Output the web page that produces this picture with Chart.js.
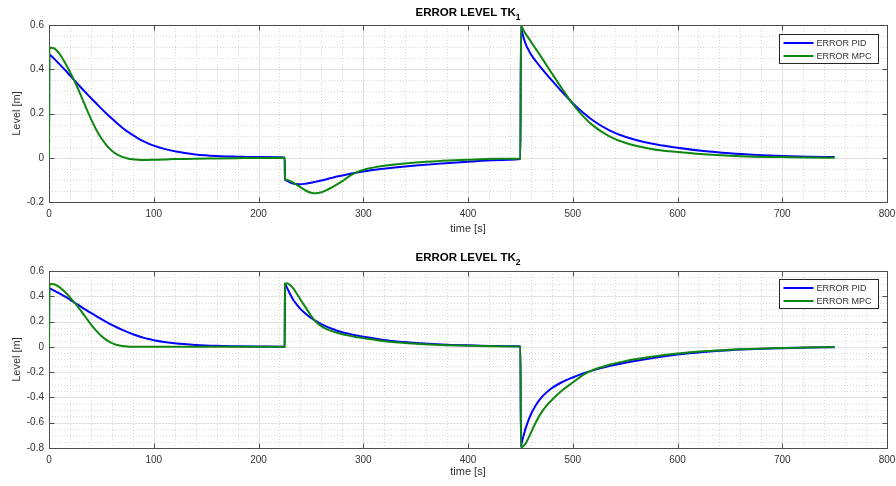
<!DOCTYPE html>
<html>
<head>
<meta charset="utf-8">
<title>ERROR LEVEL TK</title>
<script src="https://cdn.jsdelivr.net/npm/chart.js@4.4.1/dist/chart.umd.min.js"></script>
<style>
  html, body { margin: 0; padding: 0; background: #fff; }
  .box { width: 896px; height: 243px; }
  canvas { display: block; }
</style>
</head>
<body>
<div class="box"><canvas id="tk1" width="896" height="243"></canvas></div>
<div class="box"><canvas id="tk2" width="896" height="243"></canvas></div>
<script>
// ── Data ─────────────────────────────────────────────────
const time = [
  0, 0.3, 2, 5, 10, 15, 20, 25, 30, 35, 40, 45, 50, 55, 60, 65, 70, 75, 80, 85,
  90, 95, 100, 110, 120, 140, 160, 180, 200, 225,
  225.3, 227, 230, 233, 236, 240, 245, 250, 255, 260, 265, 270, 275, 280, 285, 290, 295, 300,
  315, 330, 350, 375, 400, 425, 450,
  450.6, 451, 452, 455, 457.5, 460, 465, 470, 475, 480, 490, 500, 510, 520, 535, 550, 575, 600,
  625, 650, 675, 700, 725, 750,
];

const tk1Pid = [
  0, 0.467, 0.46, 0.447, 0.423, 0.398, 0.372, 0.346, 0.32, 0.295, 0.27, 0.246, 0.222, 0.199, 0.177, 0.156, 0.136, 0.118, 0.102, 0.088,
  0.075, 0.064, 0.055, 0.04, 0.029, 0.015, 0.008, 0.005, 0.003, 0.001,
  -0.098, -0.104, -0.111, -0.116, -0.119, -0.12, -0.117, -0.113, -0.108, -0.103, -0.097, -0.091, -0.085, -0.08, -0.075, -0.07, -0.066, -0.062,
  -0.052, -0.044, -0.035, -0.026, -0.018, -0.011, -0.006,
  0.595, 0.585, 0.56, 0.515, 0.49, 0.468, 0.435, 0.405, 0.377, 0.35, 0.297, 0.247, 0.203, 0.166, 0.124, 0.095, 0.064, 0.045,
  0.03, 0.02, 0.013, 0.008, 0.005, 0.003,
];
const tk1Mpc = [
  0, 0.49, 0.497, 0.494, 0.47, 0.432, 0.388, 0.34, 0.286, 0.23, 0.176, 0.128, 0.088, 0.056, 0.032, 0.015, 0.004, -0.003, -0.007, -0.009,
  -0.01, -0.01, -0.009, -0.008, -0.006, -0.004, -0.003, -0.002, -0.001, 0,
  -0.098, -0.1, -0.105, -0.112, -0.12, -0.133, -0.148, -0.158, -0.161, -0.156, -0.146, -0.134, -0.12, -0.106, -0.089, -0.074, -0.063, -0.055,
  -0.04, -0.03, -0.021, -0.014, -0.009, -0.005, -0.003,
  0.595, 0.595, 0.585, 0.56, 0.543, 0.525, 0.49, 0.455, 0.418, 0.382, 0.311, 0.243, 0.187, 0.143, 0.097, 0.068, 0.04, 0.026,
  0.016, 0.009, 0.005, 0.003, 0.001, 0,
];

const tk2Pid = [
  0, 0.463, 0.457, 0.445, 0.423, 0.4, 0.374, 0.347, 0.32, 0.294, 0.268, 0.243, 0.219, 0.196, 0.174, 0.153, 0.134, 0.116, 0.1, 0.086,
  0.073, 0.062, 0.053, 0.039, 0.028, 0.015, 0.008, 0.005, 0.003, 0.001,
  0.5, 0.47, 0.42, 0.375, 0.34, 0.3, 0.262, 0.23, 0.203, 0.18, 0.16, 0.143, 0.128, 0.116, 0.105, 0.095, 0.087, 0.08,
  0.061, 0.045, 0.031, 0.019, 0.012, 0.007, 0.004,
  -0.795, -0.77, -0.735, -0.645, -0.585, -0.535, -0.458, -0.402, -0.36, -0.326, -0.278, -0.242, -0.21, -0.184, -0.152, -0.126, -0.09, -0.06,
  -0.04, -0.026, -0.017, -0.011, -0.006, -0.003,
];
const tk2Mpc = [
  0, 0.49, 0.497, 0.495, 0.472, 0.436, 0.392, 0.343, 0.29, 0.234, 0.178, 0.128, 0.086, 0.053, 0.03, 0.015, 0.007, 0.003, 0.001, 0,
  0, 0, 0, 0, 0, 0, 0, 0, 0, 0,
  0.5, 0.503, 0.49, 0.465, 0.428, 0.375, 0.312, 0.248, 0.197, 0.164, 0.141, 0.124, 0.111, 0.1, 0.091, 0.083, 0.075, 0.069,
  0.05, 0.036, 0.025, 0.015, 0.009, 0.005, 0.002,
  -0.795, -0.795, -0.79, -0.765, -0.725, -0.68, -0.592, -0.52, -0.465, -0.42, -0.343, -0.282, -0.222, -0.18, -0.142, -0.113, -0.079, -0.053,
  -0.035, -0.023, -0.015, -0.009, -0.005, -0.002,
];

const xTicks = [0, 100, 200, 300, 400, 500, 600, 700, 800];
const tk1YTicks = [-0.2, 0, 0.2, 0.4, 0.6];
const tk2YTicks = [-0.8, -0.6, -0.4, -0.2, 0, 0.2, 0.4, 0.6];
const seriesNames = ["ERROR PID", "ERROR MPC"];

// ── Style ────────────────────────────────────────────────
const FONT = '"Liberation Sans", Arial, sans-serif';
const TXT = "#333333";
const BLUE = "#0000ff";
const GREEN = "#0f870f";
Chart.defaults.font.family = FONT;

const fmt = (v) => String(+Number(v).toFixed(2));
const px = (v) => Math.round(v) + 0.5;

// ── Plugins: grid + box, title with subscript, legend ────
const frame = {
  id: "frame",
  beforeDatasetsDraw(chart) {
    const { ctx, chartArea: a, scales: { x, y } } = chart;
    ctx.save();
    ctx.lineWidth = 1;

    // minor grid (dotted)
    ctx.strokeStyle = "#d6d6d6";
    ctx.setLineDash([1, 2]);
    ctx.beginPath();
    for (let v = x.min; v <= x.max; v += 20) {
      if (v % 100 === 0) continue;
      const p = px(x.getPixelForValue(v));
      ctx.moveTo(p, a.top); ctx.lineTo(p, a.bottom);
    }
    const n = Math.round((y.max - y.min) / 0.05);
    for (let k = 1; k < n; k++) {
      if (k % 4 === 0) continue;
      const p = px(y.getPixelForValue(y.min + k * 0.05));
      ctx.moveTo(a.left, p); ctx.lineTo(a.right, p);
    }
    ctx.stroke();

    // major grid (solid)
    ctx.setLineDash([]);
    ctx.strokeStyle = "#e3e3e3";
    ctx.beginPath();
    x.ticks.forEach((t) => {
      const p = px(x.getPixelForValue(t.value));
      ctx.moveTo(p, a.top); ctx.lineTo(p, a.bottom);
    });
    y.ticks.forEach((t) => {
      const p = px(y.getPixelForValue(t.value));
      ctx.moveTo(a.left, p); ctx.lineTo(a.right, p);
    });
    ctx.stroke();

    // box + inward ticks
    ctx.strokeStyle = "#4d4d4d";
    const L = px(a.left), R = px(a.right), T = px(a.top), B = px(a.bottom);
    ctx.strokeRect(L, T, R - L, B - T);
    ctx.beginPath();
    x.ticks.forEach((t) => {
      const p = px(x.getPixelForValue(t.value));
      ctx.moveTo(p, B); ctx.lineTo(p, B - 5);
      ctx.moveTo(p, T); ctx.lineTo(p, T + 5);
    });
    y.ticks.forEach((t) => {
      const p = px(y.getPixelForValue(t.value));
      ctx.moveTo(L, p); ctx.lineTo(L + 5, p);
      ctx.moveTo(R, p); ctx.lineTo(R - 5, p);
    });
    ctx.stroke();
    ctx.restore();
  },
};

const tkTitle = {
  id: "tkTitle",
  afterDraw(chart, args, o) {
    const { ctx, chartArea: a } = chart;
    ctx.save();
    const big = "bold 11.5px " + FONT;
    const small = "bold 8.5px " + FONT;
    ctx.font = big;
    const w1 = ctx.measureText(o.text).width;
    ctx.font = small;
    const w2 = ctx.measureText(o.sub).width;
    const x0 = (a.left + a.right) / 2 - (w1 + w2) / 2;
    ctx.fillStyle = "#000";
    ctx.textAlign = "left";
    ctx.textBaseline = "alphabetic";
    ctx.font = big;
    ctx.fillText(o.text, x0, o.y);
    ctx.font = small;
    ctx.fillText(o.sub, x0 + w1, o.y + 3.5);
    ctx.restore();
  },
};

const boxLegend = {
  id: "boxLegend",
  afterDatasetsDraw(chart, args, o) {
    const { ctx, chartArea: a } = chart;
    const w = 99, h = 29;
    const left = Math.round(a.right - 9 - w) + 0.5;
    const top = Math.round(a.top + o.offset) + 0.5;
    ctx.save();
    ctx.fillStyle = "#fff";
    ctx.fillRect(left, top, w, h);
    ctx.strokeStyle = "#262626";
    ctx.lineWidth = 1;
    ctx.strokeRect(left, top, w, h);
    ctx.font = "9px " + FONT;
    ctx.textBaseline = "middle";
    ctx.textAlign = "left";
    chart.data.datasets.forEach((ds, i) => {
      const yy = top + 8.5 + i * 13;
      ctx.strokeStyle = ds.borderColor;
      ctx.lineWidth = 2;
      ctx.beginPath();
      ctx.moveTo(left + 4, yy); ctx.lineTo(left + 34, yy);
      ctx.stroke();
      ctx.fillStyle = TXT;
      ctx.fillText(ds.label, left + 37, yy + 0.5);
    });
    ctx.restore();
  },
};

// ── Chart builder ────────────────────────────────────────
function buildChart(canvasId, pid, mpc, yTicks, cfg) {
  return new Chart(document.getElementById(canvasId), {
    type: "line",
    data: {
      datasets: [
        { label: seriesNames[0], data: time.map((t, i) => ({ x: t, y: pid[i] })), borderColor: BLUE, order: 1 },
        { label: seriesNames[1], data: time.map((t, i) => ({ x: t, y: mpc[i] })), borderColor: GREEN, order: 0 },
      ],
    },
    options: {
      responsive: false,
      animation: false,
      devicePixelRatio: 1,
      layout: { padding: { top: cfg.top, right: 9, left: 0, bottom: 0 } },
      elements: {
        line: { borderWidth: 2, cubicInterpolationMode: "monotone", fill: false },
        point: { radius: 0, hoverRadius: 0 },
      },
      plugins: {
        legend: { display: false },
        tooltip: { enabled: false },
        tkTitle: { text: "ERROR LEVEL TK", sub: cfg.sub, y: cfg.titleY },
        boxLegend: { offset: cfg.legendOffset },
      },
      scales: {
        x: {
          type: "linear",
          min: 0,
          max: 800,
          afterBuildTicks: (s) => { s.ticks = xTicks.map((v) => ({ value: v })); },
          afterFit: (s) => { s.height = cfg.xh; s.paddingLeft = 0; s.paddingRight = 0; },
          grid: { display: false, drawTicks: false },
          border: { display: false },
          ticks: { padding: 6, color: TXT, font: { size: 10 }, maxRotation: 0, callback: fmt },
          title: { display: true, text: "time [s]", color: TXT, font: { size: 11 }, padding: { top: 0, bottom: 7 } },
        },
        y: {
          type: "linear",
          min: yTicks[0],
          max: yTicks[yTicks.length - 1],
          afterBuildTicks: (s) => { s.ticks = yTicks.map((v) => ({ value: v })); },
          afterFit: (s) => { s.width = 49; s.paddingTop = 0; s.paddingBottom = 0; },
          grid: { display: false, drawTicks: false },
          border: { display: false },
          ticks: { padding: 5, color: TXT, font: { size: 10 }, callback: fmt },
          title: { display: true, text: "Level [m]", color: TXT, font: { size: 11 }, padding: { top: 10, bottom: 0 } },
        },
      },
    },
    plugins: [frame, tkTitle, boxLegend],
  });
}

buildChart("tk1", tk1Pid, tk1Mpc, tk1YTicks, { top: 25, xh: 41, sub: "1", titleY: 16, legendOffset: 9 });
buildChart("tk2", tk2Pid, tk2Mpc, tk2YTicks, { top: 28, xh: 38, sub: "2", titleY: 18, legendOffset: 8 });
</script>
</body>
</html>
